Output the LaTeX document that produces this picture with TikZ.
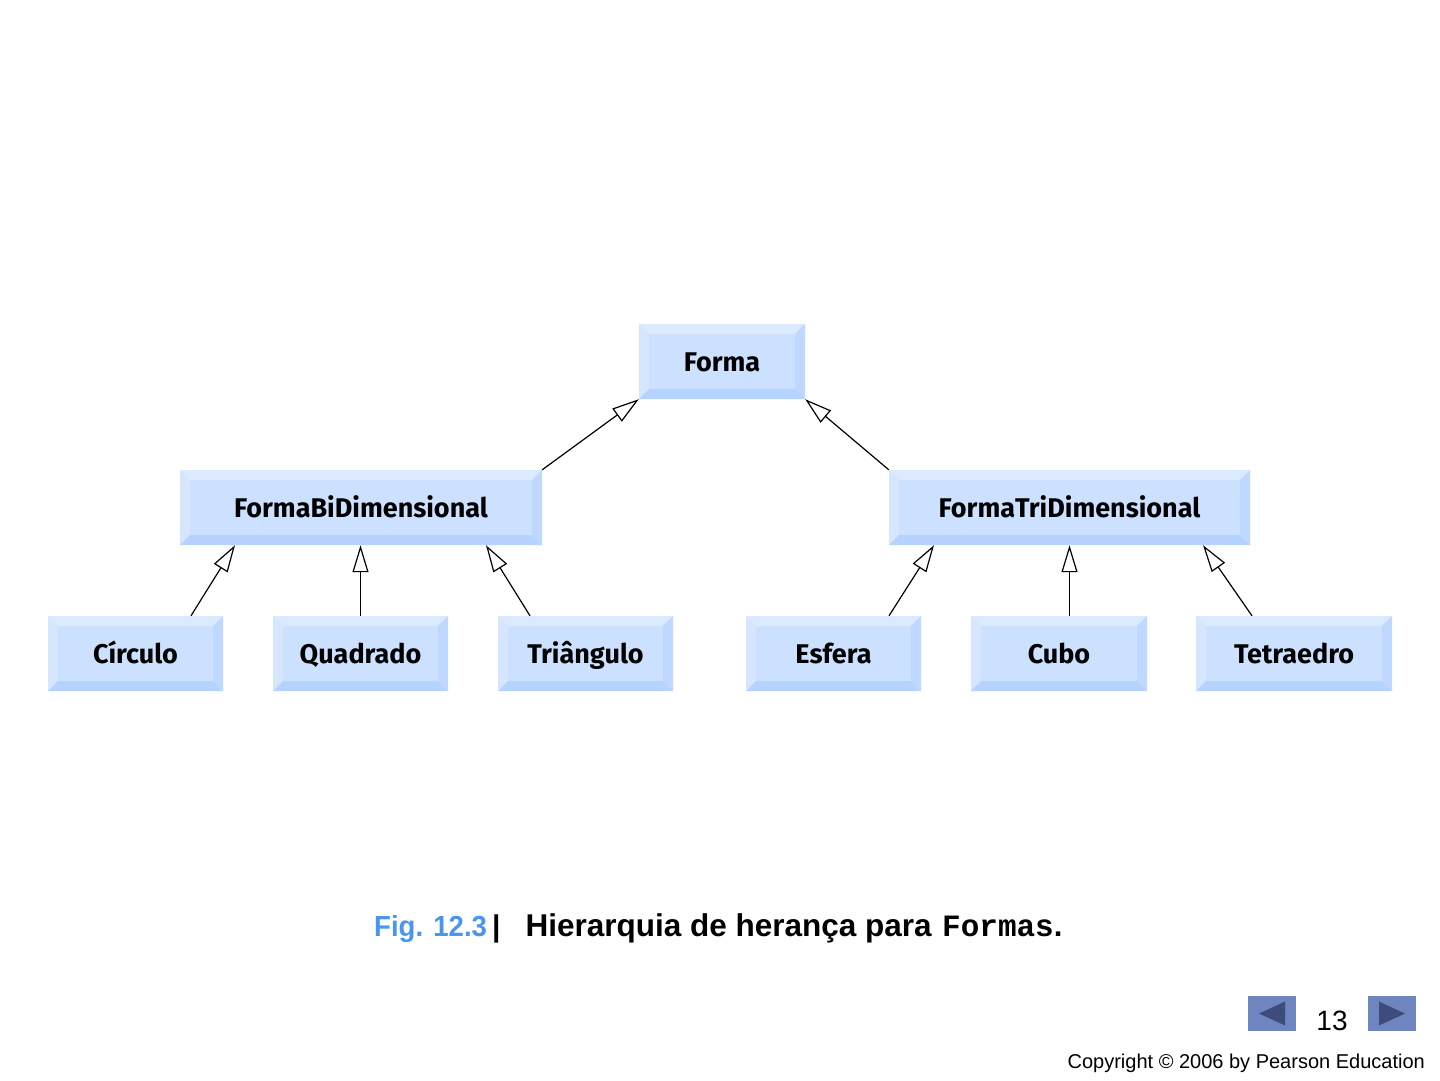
\documentclass[tikz,border=0pt]{standalone}
\usepackage{fontspec}
\setmainfont{Liberation Sans}
\newfontfamily\boxfont{Fira Sans}
\newfontfamily\codefont{Liberation Mono}
\usetikzlibrary{arrows.meta}
\definecolor{facecol}{HTML}{CCE0FF}
\definecolor{toplt}{HTML}{DCEAFF}
\definecolor{leftlt}{HTML}{D6E6FF}
\definecolor{botdk}{HTML}{B6D2FF}
\definecolor{rightdk}{HTML}{BED8FF}
\definecolor{figblue}{HTML}{4A95F0}
\definecolor{navbg}{HTML}{6E85C0}
\definecolor{navtri}{HTML}{3E4C7C}
\tikzset{
  bevbox/.style={minimum width=#1, minimum height=75pt, inner sep=0pt, fill=facecol,
    text height=26pt, text depth=6pt,
    font=\boxfont\bfseries\fontsize{27}{30}\selectfont,
    path picture={
      \fill[toplt] (path picture bounding box.north west) -- (path picture bounding box.north east)
        -- ([shift={(-10pt,-10pt)}]path picture bounding box.north east) -- ([shift={(10pt,-10pt)}]path picture bounding box.north west) -- cycle;
      \fill[leftlt] (path picture bounding box.north west) -- (path picture bounding box.south west)
        -- ([shift={(10pt,10pt)}]path picture bounding box.south west) -- ([shift={(10pt,-10pt)}]path picture bounding box.north west) -- cycle;
      \fill[botdk] (path picture bounding box.south west) -- (path picture bounding box.south east)
        -- ([shift={(-10pt,10pt)}]path picture bounding box.south east) -- ([shift={(10pt,10pt)}]path picture bounding box.south west) -- cycle;
      \fill[rightdk] (path picture bounding box.north east) -- (path picture bounding box.south east)
        -- ([shift={(-10pt,10pt)}]path picture bounding box.south east) -- ([shift={(-10pt,-10pt)}]path picture bounding box.north east) -- cycle;
    }},
  inh/.style={draw=black, line width=1.2pt, -{Triangle[open,length=27pt,width=16pt,fill=white]}},
  navbtn/.style={fill=navbg, minimum width=48pt, minimum height=35pt, inner sep=0pt},
  captxt/.style={anchor=base west, inner sep=0pt}
}
\begin{document}
\begin{tikzpicture}[x=1pt,y=1pt]
\useasboundingbox[fill=white] (0,0) rectangle (1440,-1080);
% boxes
\node[bevbox=166pt] (forma) at (722,-361.5) {Forma};
\node[bevbox=362pt] (bi) at (361,-507.5) {FormaBiDimensional};
\node[bevbox=361pt] (tri) at (1069.5,-507.5) {FormaTriDimensional};
\node[bevbox=175pt] (circ) at (135.5,-653.5) {Círculo};
\node[bevbox=175pt] (quad) at (360.5,-653.5) {Quadrado};
\node[bevbox=175pt] (trian) at (585.5,-653.5) {Triângulo};
\node[bevbox=175pt] (esf) at (833.5,-653.5) {Esfera};
\node[bevbox=176pt] (cubo) at (1059,-653.5) {Cubo};
\node[bevbox=196pt] (tetra) at (1294,-653.5) {Tetraedro};
% inheritance arrows
\draw[inh] (bi.north east) -- (forma.south west);
\draw[inh] (tri.north west) -- (forma.south east);
\draw[inh] ([xshift=55.5pt]circ.north) -- ([xshift=-126pt]bi.south);
\draw[inh] (quad.north) -- ([xshift=-0.5pt]bi.south);
\draw[inh] ([xshift=-55.5pt]trian.north) -- ([xshift=125pt]bi.south);
\draw[inh] ([xshift=55.5pt]esf.north) -- ([xshift=-135.5pt]tri.south);
\draw[inh] ([xshift=10.5pt]cubo.north) -- (tri.south);
\draw[inh] ([xshift=-42pt]tetra.north) -- ([xshift=133.5pt]tri.south);
% caption
\node[captxt, font=\bfseries\fontsize{29}{32}\selectfont, text=figblue] (capfig) at (374,-936)
  {\scalebox{0.95}[1]{Fig. 12.3}};
\node[captxt, font=\bfseries\fontsize{30}{32}\selectfont] (capbar) at (492,-936) {|};
\node[anchor=base east, inner sep=0pt, font=\bfseries\fontsize{31.5}{32}\selectfont] (captext) at (932,-936)
  {Hierarquia de herança para};
\node[captxt, font=\codefont\bfseries\fontsize{31}{32}\selectfont] (capcode) at (942,-936)
  {Formas\normalfont\bfseries.};
% navigation
\node[navbtn] (prev) at (1272,-1013.5) {};
\fill[navtri] ([xshift=-13pt]prev.center) -- ([xshift=13pt,yshift=12pt]prev.center) -- ([xshift=13pt,yshift=-12pt]prev.center) -- cycle;
\node[navbtn] (next) at (1392,-1013.5) {};
\fill[navtri] ([xshift=13pt]next.center) -- ([xshift=-13pt,yshift=12pt]next.center) -- ([xshift=-13pt,yshift=-12pt]next.center) -- cycle;
\node[anchor=base, inner sep=0pt, font=\fontsize{28}{30}\selectfont] (pnum) at (1332,-1030) {13};
\node[anchor=base east, inner sep=0pt, font=\fontsize{20}{22}\selectfont] (copy) at (1425,-1068) {Copyright © 2006 by Pearson Education};
\end{tikzpicture}
\end{document}
